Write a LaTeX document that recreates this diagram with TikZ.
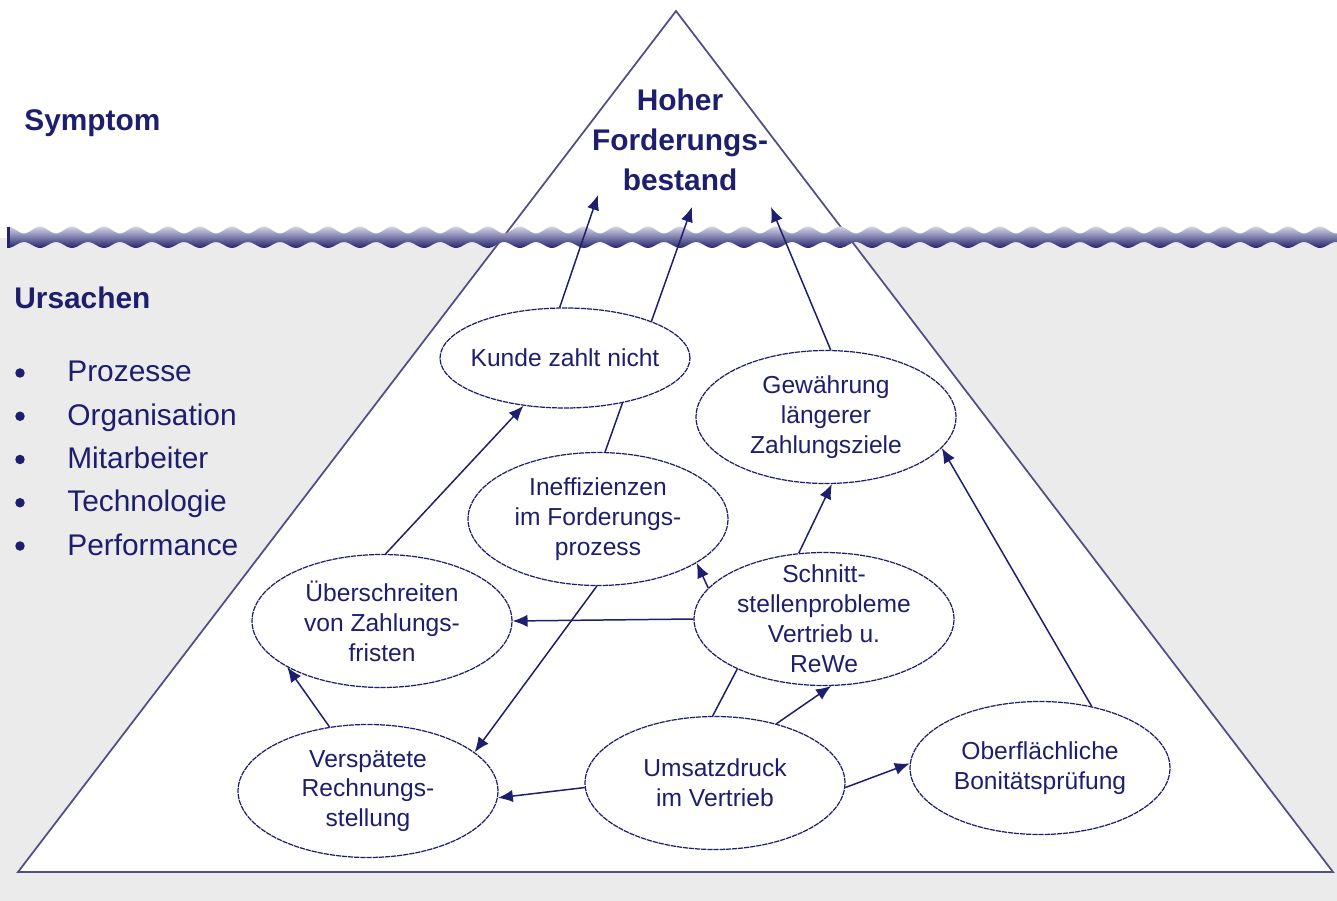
\documentclass[tikz,border=0pt]{standalone}
\usepackage{fontspec}
\setmainfont{Liberation Sans}
\usetikzlibrary{shapes.geometric,arrows.meta}
\definecolor{navy}{RGB}{30,30,110}
\definecolor{wavetop}{RGB}{212,212,230}
\definecolor{wavemid}{RGB}{155,155,195}
\definecolor{wavebot}{RGB}{35,35,110}
\definecolor{seagray}{RGB}{235,235,235}
\definecolor{edgeblue}{RGB}{80,80,135}

\tikzset{
  cause/.style={ellipse, draw=navy, fill=white, line width=0.7pt,
    dash pattern=on 3pt off 0.5pt, minimum width=5.2cm, minimum height=2.66cm,
    inner sep=0pt, align=center, text=navy, font=\fontsize{14}{17}\selectfont},
  flow/.style={draw=navy, line width=0.85pt, -{Latex[length=8.5pt,width=7pt]}},
  link/.style={draw=navy, line width=0.85pt},
  heading/.style={text=navy, font=\fontsize{17}{21}\selectfont\bfseries, inner sep=0pt},
  listtext/.style={text=navy, font=\fontsize{17}{21}\selectfont, inner sep=0pt},
  dot/.style={circle, fill=navy, inner sep=0pt, minimum size=0.19cm}
}

\begin{document}
\begin{tikzpicture}[x=0.02cm, y=-0.02cm]
\useasboundingbox (0,0) rectangle (1337,901);

% Wasser und Eisberg
\fill[seagray] (0,238) rectangle (1337,901);
\filldraw[fill=white, draw=edgeblue, line width=1pt] (676,11) -- (1333,872) -- (18,872) -- cycle;

% Wasseroberflaeche
\shade[top color=wavetop, middle color=wavemid, bottom color=wavebot]
  plot[domain=7:1337, samples=420] (\x, {230-3.5*sin(11.25*\x)})
  -- plot[domain=1337:7, samples=420] (\x, {245+3*sin(11.25*\x)}) -- cycle;
\fill[wavebot] (7,227) rectangle (10,248);

% Beschriftung links
\node[heading, anchor=base west] (symptom) at (24,131) {Symptom};
\node[heading, anchor=base west] (ursachen) at (14,309) {Ursachen};
\foreach \entry [count=\i] in {Prozesse,Organisation,Mitarbeiter,Technologie,Performance}{
  \node[dot] (bullet\i) at (20,{373+43.25*(\i-1)}) {};
  \node[listtext, anchor=base west] (entry\i) at (67,{382+43.25*(\i-1)}) {\entry};
}

% Spitze
\node[heading, align=center, font=\fontsize{17}{22.8}\selectfont\bfseries] (hoher) at (680,140)
  {Hoher\\Forderungs-\\bestand};
\coordinate (tip1) at (598,195);
\coordinate (tip2) at (692,207);
\coordinate (tip3) at (771,207);

% Ursachen
\node[cause] (ineff) at (598,519) {Ineffizienzen\\im Forderungs-\\prozess};
\draw[flow] (ineff.84) -- (tip2);
\node[cause, inner xsep=-4.5pt, minimum width=5cm, minimum height=2cm] (kunde) at (565,358) {Kunde zahlt nicht};
\node[cause] (gewaehr) at (826,417) {Gewährung\\längerer\\Zahlungsziele};
\node[cause] (ueber) at (382,621) {Überschreiten\\von Zahlungs-\\fristen};
\node[cause, inner ysep=-7pt] (schnitt) at (824,619) {Schnitt-\\stellenprobleme\\Vertrieb u.\\ReWe};
\node[cause] (versp) at (368,791) {Verspätete\\Rechnungs-\\stellung};
\node[cause] (umsatz) at (715,783) {Umsatzdruck\\im Vertrieb};
\node[cause] (oberfl) at (1040,768) {Oberflächliche\\Bonitätsprüfung};

% Wirkungen
\draw[flow] (kunde.96) -- (tip1);
\draw[flow] (gewaehr.86) -- (tip3);
\draw[flow] (ineff.-91) -- (versp.20);
\draw[flow] (versp.121) -- (ueber.206);
\draw[flow] (ueber.87) -- (kunde.229);
\draw[flow] (schnitt.west) -- (ueber.east);
\draw[flow] (schnitt.165) -- (ineff.-24);
\draw[flow] (schnitt.111) -- (gewaehr.-85);
\draw[link] (umsatz.92) -- (schnitt.210);
\draw[flow] (umsatz.44) -- (schnitt.-84);
\draw[flow] (umsatz.182) -- (versp.-3);
\draw[flow] (umsatz.-2) -- (oberfl.178);
\draw[flow] (oberfl.50) -- (gewaehr.-15);
\end{tikzpicture}
\end{document}
